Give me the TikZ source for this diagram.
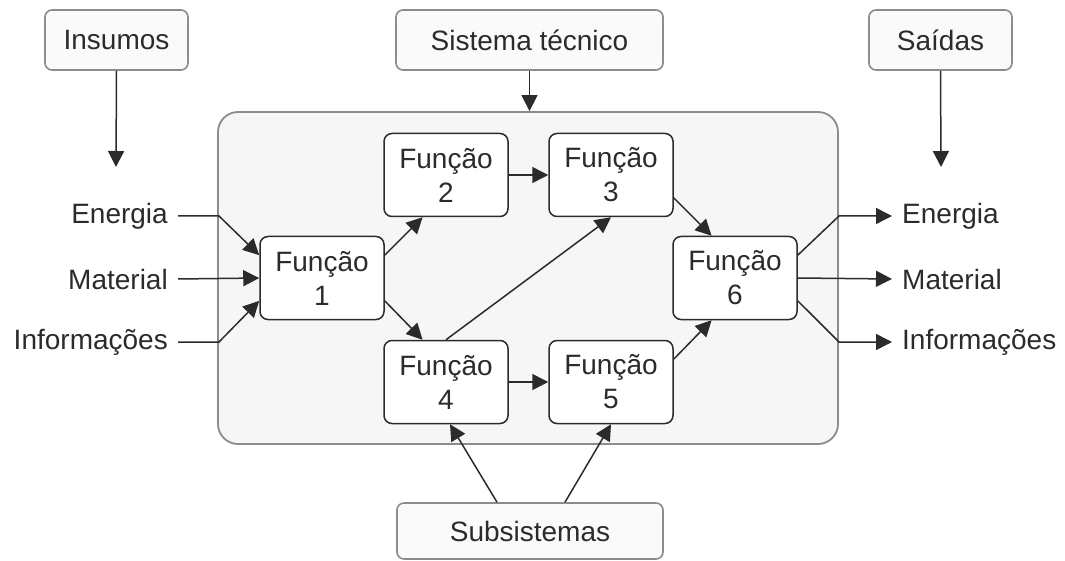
\documentclass[tikz,border=0pt]{standalone}
\usepackage{fontspec}
\setmainfont{Liberation Sans}
\usetikzlibrary{arrows.meta,calc}
\definecolor{ink}{HTML}{2B2B2B}
\definecolor{frame}{HTML}{8C8C8C}
\definecolor{panel}{HTML}{F6F6F6}
\definecolor{tag}{HTML}{FAFAFA}
\begin{document}
\begin{tikzpicture}[x=1pt,y=-1pt,
  font=\fontsize{28}{34}\selectfont, text=ink,
  labelbox/.style={draw=frame, line width=1.6pt, fill=tag, rounded corners=7pt,
    minimum height=60pt, inner sep=0pt},
  funcbox/.style={draw=ink, line width=1.5pt, fill=white, rounded corners=8pt,
    minimum width=124pt, minimum height=83pt, inner sep=0pt, align=center},
  flow/.style={draw=ink, line width=1.5pt, -{Triangle[length=16pt,width=16pt]}},
  sidetext/.style={inner sep=0pt, inner xsep=10pt}]
\useasboundingbox (0,0) rectangle (1065,561);

% technical system panel
\node[draw=frame, line width=1.8pt, fill=panel, rounded corners=20pt,
  minimum width=620pt, minimum height=332pt] (sys) at (528,278) {};

% label boxes
\node[labelbox, minimum width=143pt] (ins) at (116.5,40) {Insumos};
\node[labelbox, minimum width=267pt] (st) at (529.5,40) {Sistema técnico};
\node[labelbox, minimum width=143pt] (sai) at (940.5,40) {Saídas};
\node[labelbox, minimum width=266pt, minimum height=56pt] (sub) at (530,531) {Subsistemas};

\coordinate (insTip) at (116,167);
\coordinate (saiTip) at (941,167);
\draw[flow] (ins.south) -- (insTip);
\draw[flow] (sai.south) -- (saiTip);
\draw[flow] (st.south) -- (st.south |- sys.north);

% functions
\node[funcbox] (f1) at (322,278) {Função\\1};
\node[funcbox] (f2) at (446,175) {Função\\2};
\node[funcbox] (f3) at (611,175) {Função\\3};
\node[funcbox] (f4) at (446,382) {Função\\4};
\node[funcbox] (f5) at (611,382) {Função\\5};
\node[funcbox] (f6) at (735,278) {Função\\6};

\draw[flow] (f1.20) -- (f2.241);
\draw[flow] (f1.-20) -- (f4.119);
\draw[flow] (f2.east) -- (f3.west);
\draw[flow] (f4.east) -- (f5.west);
\draw[flow] (f4.north) -- (f3.south);
\draw[flow] (f3.-20) -- (f6.119);
\draw[flow] (f5.20) -- (f6.241);

% inputs
\node[sidetext, anchor=east] (inE) at (178,216) {Energia};
\node[sidetext, anchor=east] (inM) at (178,279) {Material};
\node[sidetext, anchor=east] (inI) at (178,342) {Informações};
\coordinate (inEb) at (219,216);
\coordinate (inIb) at (219,342);
\draw[flow] (inE.east) -- (inEb) -- (f1.160);
\draw[flow] (inM.east) -- (f1.west);
\draw[flow] (inI.east) -- (inIb) -- (f1.200);

% outputs
\node[sidetext, anchor=west] (outE) at (892,216) {Energia};
\node[sidetext, anchor=west] (outM) at (892,279) {Material};
\node[sidetext, anchor=west] (outI) at (892,342) {Informações};
\coordinate (outEb) at (839,216);
\coordinate (outIb) at (839,342);
\draw[flow] (f6.20) -- (outEb) -- (outE.west);
\draw[flow] (f6.east) -- (outM.west);
\draw[flow] (f6.-20) -- (outIb) -- (outI.west);

% subsystems
\draw[flow] ($(sub.north)+(-33,0)$) -- ($(f4.south)+(4,0)$);
\draw[flow] ($(sub.north)+(35,0)$) -- (f5.south);
\end{tikzpicture}
\end{document}
